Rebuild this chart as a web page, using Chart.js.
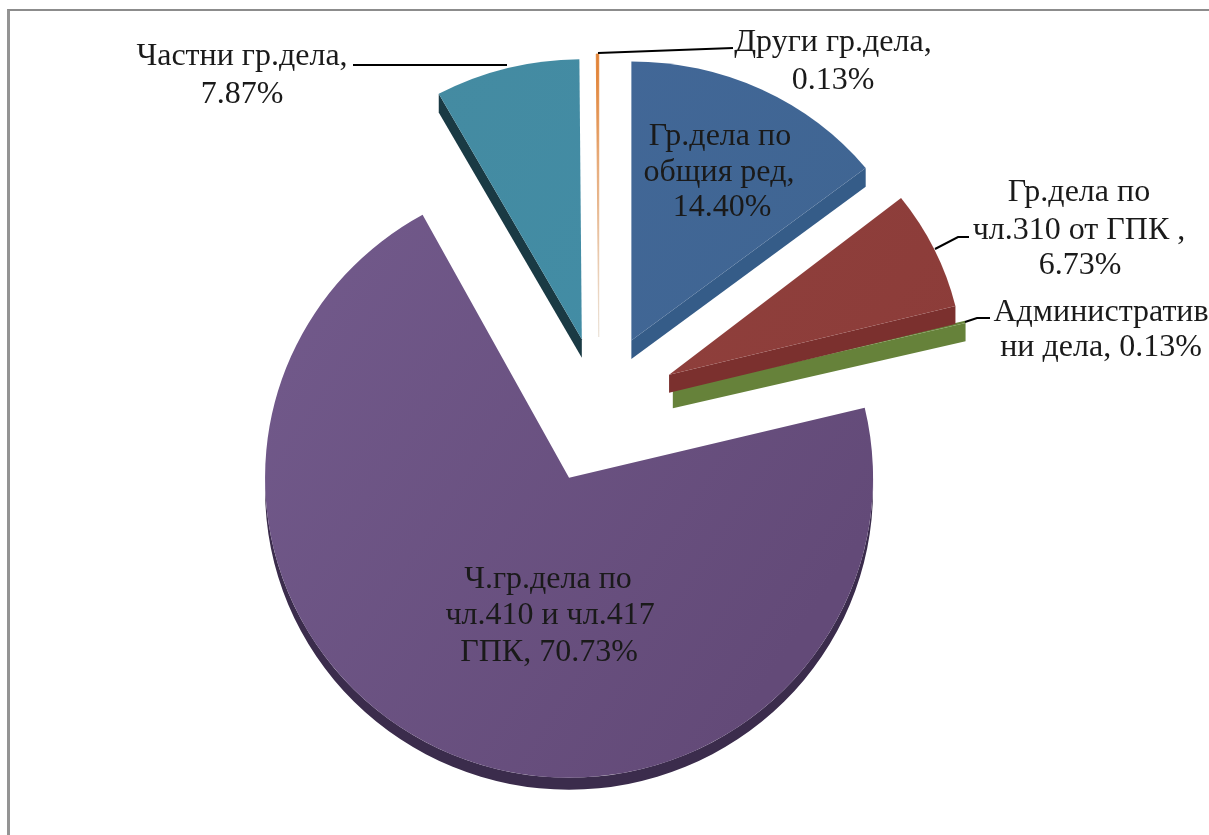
<!DOCTYPE html>
<html>
<head>
<meta charset="utf-8">
<title>Pie</title>
<script src="https://cdn.jsdelivr.net/npm/chart.js@4"></script>
<style>
  html, body { margin: 0; background: #fff; }
  #frame { position: absolute; left: 7px; top: 9px; width: 1202px; height: 826px;
           border-top: 2px solid #8c8c8c; border-left: 3px solid #949494; box-sizing: border-box; }
  canvas { position: absolute; left: 0; top: 0; }
</style>
</head>
<body>
<div id="frame"></div>
<canvas id="pie" width="1209" height="835"></canvas>
<script>
// drawn back to front, so the red wedge ends up over the green one
const categories = ['Административни дела', 'Ч.гр.дела по чл.410 и чл.417 ГПК', 'Частни гр.дела',
                    'Други гр.дела', 'Гр.дела по общия ред', 'Гр.дела по чл.310 от ГПК'];
const shares = [0.13, 70.73, 7.87, 0.13, 14.40, 6.73];

const labelLines = [
    ['Административ', 'ни дела, 0.13%'],
    ['Ч.гр.дела по', 'чл.410 и чл.417', 'ГПК, 70.73%'],
    ['Частни гр.дела,', '7.87%'],
    ['Други гр.дела,', '0.13%'],
    ['Гр.дела по', 'общия ред,', '14.40%'],
    ['Гр.дела по', 'чл.310 от ГПК ,', '6.73%']
];

// looks
const faceTop = ['#66843a', '#745c8e', '#458aa0', '#e2853a', '#44699b', '#934440'];
const faceEnd = ['#66843a', '#634a78', '#408ea8', '#ece4da', '#3e6490', '#8c3c39'];
const wallColors = ['#66823a', '#3b2c4c', '#1a3a44', '#e2853a', '#355c88', '#7b302e'];
const wallDepth = [19, 12, 20, 0, 20, 19];
const showStartWall = [false, false, true, false, false, false];
const showEndWall = [true, false, false, false, true, true];
const explode = [304, 296, 272, 272, 296, 312];
const nudgeY = [3, 5, 0, 0, 2, 4];
const radiusX = [301, 304, 297, 298, 298, 295];
const radiusY = [288, 300, 280, 283, 279, 286];

const labelX = [[1101, 1101], [548, 550, 549], [242, 242], [833, 833], [720, 719, 722], [1079, 1079, 1080]];
const labelY = [[321, 356], [588, 624, 661], [65, 103], [51, 89], [145, 181, 216], [201, 239, 274]];
const leaders = [
    [[965, 322], [977, 318], [990, 318]],
    [[353, 65], [507, 65]],
    [[598, 53], [733, 48]],
    [[935, 249], [958, 237], [969, 237]]
];

const ctx = document.getElementById('pie').getContext('2d');
const total = shares.reduce((a, b) => a + b, 0);
const rotation = (shares[4] + shares[5]) / total * 360;

function faceGradient(i) {
    let g;
    if (i === 3) g = ctx.createLinearGradient(0, 54, 0, 337);
    else g = ctx.createLinearGradient(260, 100, 880, 500);
    g.addColorStop(0, faceTop[i]);
    g.addColorStop(1, faceEnd[i]);
    return g;
}

// every wedge has its own slightly flattened ellipse and a dark side wall
const wedges3d = {
    id: 'wedges3d',
    beforeDatasetsDraw(chart) {
        const c = chart.ctx;
        chart.getDatasetMeta(0).data.forEach((arc, i) => {
            const off = arc.options.offset / 4;
            const mid = (arc.startAngle + arc.endAngle) / 2;
            const apexX = arc.x + Math.cos(mid) * off;
            const apexY = arc.y + Math.sin(mid) * off;
            const r = arc.outerRadius;
            const d = wallDepth[i];

            c.save();
            c.translate(0, nudgeY[i]);
            c.translate(apexX, apexY);
            c.scale(radiusX[i] / r, radiusY[i] / r);
            c.translate(-apexX, -apexY);

            c.fillStyle = wallColors[i];
            // cut sides that face the viewer
            const edges = [];
            if (showStartWall[i]) edges.push(arc.startAngle);
            if (showEndWall[i]) edges.push(arc.endAngle);
            edges.forEach(a => {
                const rimX = apexX + Math.cos(a) * r;
                const rimY = apexY + Math.sin(a) * r;
                c.beginPath();
                c.moveTo(apexX, apexY);
                c.lineTo(rimX, rimY);
                c.lineTo(rimX, rimY + d);
                c.lineTo(apexX, apexY + d);
                c.closePath();
                c.fill();
            });
            // outer rim, only the lower half of the circle shows
            const s = Math.max(arc.startAngle, 0);
            const e = Math.min(arc.endAngle, Math.PI);
            if (d > 0 && e > s) {
                c.beginPath();
                c.arc(apexX, apexY, r, s, e);
                c.arc(apexX, apexY + d, r, e, s, true);
                c.closePath();
                c.fill();
            }

            c.fillStyle = arc.options.backgroundColor;
            c.beginPath();
            c.moveTo(apexX, apexY);
            c.arc(apexX, apexY, r, arc.startAngle, arc.endAngle);
            c.closePath();
            c.fill();
            // hairline wedge needs a stroke to stay visible
            if (d === 0) {
                c.strokeStyle = arc.options.backgroundColor;
                c.lineWidth = 1;
                c.stroke();
            }
            c.restore();
        });
        return false;
    },
    afterDraw(chart) {
        const c = chart.ctx;
        c.save();
        c.strokeStyle = '#000';
        c.lineWidth = 2;
        leaders.forEach(line => {
            c.beginPath();
            line.forEach((p, k) => k ? c.lineTo(p[0], p[1]) : c.moveTo(p[0], p[1]));
            c.stroke();
        });
        c.fillStyle = '#1a1a1a';
        c.font = '32px "Liberation Serif"';
        c.textAlign = 'center';
        c.textBaseline = 'alphabetic';
        labelLines.forEach((lines, i) => {
            lines.forEach((txt, k) => c.fillText(txt, labelX[i][k], labelY[i][k]));
        });
        c.restore();
    }
};

new Chart(ctx, {
    type: 'pie',
    data: {
        labels: categories,
        datasets: [{
            data: shares,
            backgroundColor: shares.map((s, i) => faceGradient(i)),
            borderWidth: 0,
            offset: explode,
            radius: 300
        }]
    },
    options: {
        responsive: false,
        animation: false,
        rotation: rotation,
        layout: { padding: { left: 0, right: 11, top: 0, bottom: 25 } },
        plugins: { legend: { display: false }, tooltip: { enabled: false } }
    },
    plugins: [wedges3d]
});
</script>
</body>
</html>
